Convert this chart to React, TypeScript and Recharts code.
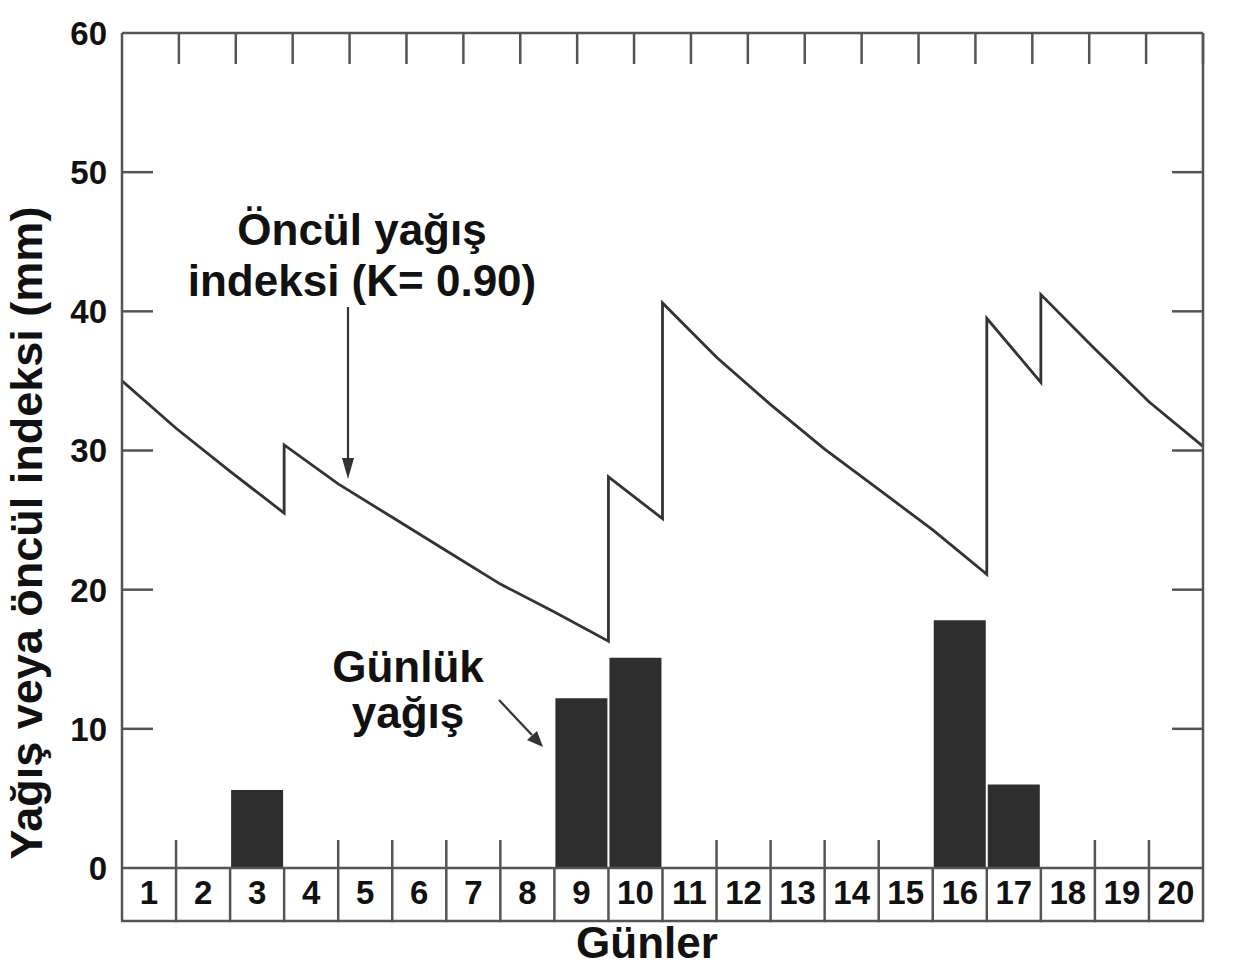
import { Bar, ComposedChart, Line, XAxis, YAxis } from 'recharts';

const FONT = '"Liberation Sans", Arial, sans-serif';
const AXIS_COLOR = '#555';
const INK = '#111';
const CELL_H = 53;
const Y_LABEL_GAP = 15;

// günler (kategori) ve günlük yağış (mm)
const DAYS = [1, 2, 3, 4, 5, 6, 7, 8, 9, 10, 11, 12, 13, 14, 15, 16, 17, 18, 19, 20];
const RAIN = [0, 0, 5.6, 0, 0, 0, 0, 0, 12.2, 15.1, 0, 0, 0, 0, 0, 17.8, 6.0, 0, 0, 0];

// öncül yağış indeksi, gün sınırlarında okunan değerler (sıçramalarda aynı t iki kez)
const API_T = [0, 1, 2, 3, 3, 4, 5, 6, 7, 8, 9, 9, 10, 10, 11, 12, 13, 14, 15, 16, 16, 17, 17, 18, 19, 20];
const API_V = [
  35.0, 31.6, 28.5, 25.5, 30.4, 27.6, 25.2, 22.8, 20.4, 18.4, 16.3, 28.1, 25.1, 40.6, 36.7, 33.3, 30.1,
  27.2, 24.3, 21.1, 39.5, 34.9, 41.2, 37.3, 33.5, 30.3,
];

const Y_TICKS = [0, 10, 20, 30, 40, 50, 60];
const Y_INNER_TICKS = [10, 20, 30, 40, 50];
const DAY_EDGES = [1, 2, 3, 4, 5, 6, 7, 8, 9, 10, 11, 12, 13, 14, 15, 16, 17, 18, 19];

const barData = DAYS.map((day, i) => ({ day, rain: RAIN[i] }));
const apiData = API_T.map((t, i) => ({ t, v: API_V[i] }));
// alt kenardaki kısa çentikler, bir çubuğun kapatmadığı sınırlarda
const bottomEdges = DAY_EDGES.filter((e) => RAIN[e - 1] === 0 && RAIN[e] === 0);

type TickProps = {
  x?: number;
  y?: number;
  width?: number;
  index?: number;
  visibleTicksCount?: number;
  payload?: { value?: number | string; offset?: number };
};

const DayTick = (props: TickProps) => {
  const x = props.x ?? 0;
  const y = props.y ?? 0;
  const count = props.visibleTicksCount ?? DAYS.length;
  const half = props.payload?.offset || (props.width ?? 0) / count / 2;
  const left = x - half;
  const right = x + half;
  const isLast = props.index === count - 1;
  return (
    <g>
      <line x1={left} y1={y} x2={left} y2={y + CELL_H} stroke={AXIS_COLOR} strokeWidth={2.5} />
      {isLast ? <line x1={right} y1={y} x2={right} y2={y + CELL_H} stroke={AXIS_COLOR} strokeWidth={2.5} /> : null}
      <line x1={left - 1} y1={y + CELL_H} x2={right + 1} y2={y + CELL_H} stroke={AXIS_COLOR} strokeWidth={2.5} />
      <text
        x={x}
        y={y + 36}
        textAnchor="middle"
        fontFamily={FONT}
        fontWeight="bold"
        fontSize={33}
        fill={INK}
      >
        {props.payload?.value}
      </text>
    </g>
  );
};

// sol eksen: etiket dışarıda, çentik içeride
const ValueTick = (props: TickProps) => {
  const x = props.x ?? 0;
  const y = props.y ?? 0;
  const value = Number(props.payload?.value);
  const edge = x + Y_LABEL_GAP;
  return (
    <g>
      {Y_INNER_TICKS.includes(value) ? (
        <line x1={edge} y1={y} x2={edge + 31} y2={y} stroke={AXIS_COLOR} strokeWidth={2.5} />
      ) : null}
      <text
        x={x}
        y={y}
        dy="0.36em"
        textAnchor="end"
        fontFamily={FONT}
        fontWeight="bold"
        fontSize={33}
        fill={INK}
      >
        {props.payload?.value}
      </text>
    </g>
  );
};

// içe bakan çentik: dx/dy, kenardaki noktadan çizginin ucuna
const inwardTick = (dx: number, dy: number) => {
  const InwardTick = (props: TickProps) => {
    const x = props.x ?? 0;
    const y = props.y ?? 0;
    return <line x1={x} y1={y} x2={x + dx} y2={y + dy} stroke={AXIS_COLOR} strokeWidth={2.5} />;
  };
  return InwardTick;
};

const TopTick = inwardTick(0, 31);
const BottomTick = inwardTick(0, -28);
const RightTick = inwardTick(-31, 0);

const textStyle = { fontFamily: FONT, fontWeight: 'bold' as const, fontSize: 44, fill: INK };

export default function App() {
  return (
    <div style={{ position: 'absolute', left: 0, top: 0, width: 1260, height: 969, background: '#fff' }}>
      <ComposedChart
        width={1260}
        height={969}
        data={barData}
        margin={{ top: 33, right: 57, bottom: 48, left: 22 }}
        barCategoryGap={1}
      >
        <XAxis
          xAxisId="day"
          dataKey="day"
          type="category"
          height={53}
          interval={0}
          tickLine={false}
          tickSize={0}
          tickMargin={0}
          tick={<DayTick />}
          axisLine={{ stroke: AXIS_COLOR, strokeWidth: 2.5 }}
        />
        <XAxis
          xAxisId="num"
          dataKey="t"
          type="number"
          domain={[0, 20]}
          allowDataOverflow
          mirror
          ticks={bottomEdges}
          interval={0}
          tickLine={false}
          tickSize={0}
          tickMargin={0}
          tick={<BottomTick />}
          axisLine={false}
        />
        <XAxis
          xAxisId="top"
          orientation="top"
          type="number"
          domain={[0, 20]}
          allowDataOverflow
          mirror
          ticks={DAY_EDGES}
          interval={0}
          tickLine={false}
          tickSize={0}
          tickMargin={0}
          tick={<TopTick />}
          axisLine={{ stroke: AXIS_COLOR, strokeWidth: 2.5 }}
        />
        <YAxis
          yAxisId="v"
          domain={[0, 60]}
          allowDataOverflow
          ticks={Y_TICKS}
          interval={0}
          width={100}
          tickLine={false}
          tickSize={0}
          tickMargin={Y_LABEL_GAP}
          tick={<ValueTick />}
          axisLine={{ stroke: AXIS_COLOR, strokeWidth: 2.5 }}
        />
        <YAxis
          yAxisId="right"
          orientation="right"
          type="number"
          domain={[0, 60]}
          allowDataOverflow
          mirror
          ticks={Y_INNER_TICKS}
          interval={0}
          tickLine={false}
          tickSize={0}
          tickMargin={0}
          tick={<RightTick />}
          axisLine={{ stroke: AXIS_COLOR, strokeWidth: 2.5 }}
        />
        <Bar xAxisId="day" yAxisId="v" dataKey="rain" fill="#2e2e2e" isAnimationActive={false} />
        <Line
          xAxisId="num"
          yAxisId="v"
          data={apiData}
          dataKey="v"
          type="linear"
          stroke="#333"
          strokeWidth={2.8}
          strokeLinejoin="miter"
          dot={false}
          activeDot={false}
          isAnimationActive={false}
        />
      </ComposedChart>

      <svg
        width={1260}
        height={969}
        style={{ position: 'absolute', left: 0, top: 0, pointerEvents: 'none' }}
      >
        <text x={362} y={245} textAnchor="middle" {...textStyle}>
          Öncül yağış
        </text>
        <text x={362} y={296} textAnchor="middle" {...textStyle}>
          indeksi (K= 0.90)
        </text>
        <line x1={348} y1={307} x2={348} y2={462} stroke="#333" strokeWidth={2.2} />
        <polygon points="342,458 354,458 348,479" fill="#333" />

        <text x={408} y={682} textAnchor="middle" {...textStyle}>
          Günlük
        </text>
        <text x={408} y={728} textAnchor="middle" {...textStyle}>
          yağış
        </text>
        <line x1={499} y1={700} x2={532} y2={735} stroke="#333" strokeWidth={2.2} />
        <polygon points="527,740 537,731 543,747" fill="#333" />

        <text x={647} y={958} textAnchor="middle" {...textStyle}>
          Günler
        </text>
        <text
          x={42}
          y={533}
          textAnchor="middle"
          transform="rotate(-90 42 533)"
          {...textStyle}
          fontSize={45}
        >
          Yağış veya öncül indeksi (mm)
        </text>
      </svg>
    </div>
  );
}
